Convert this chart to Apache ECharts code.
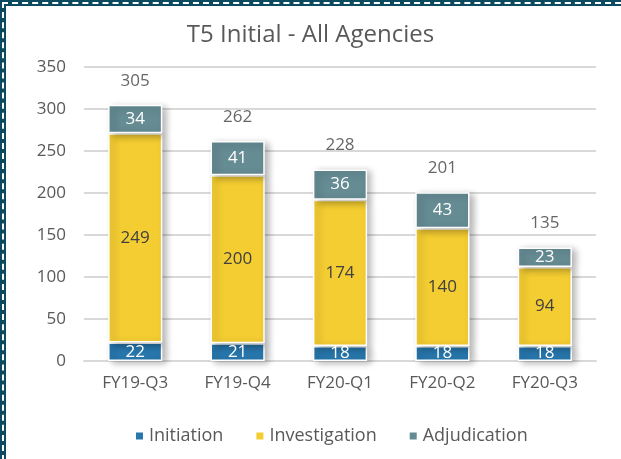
<!DOCTYPE html>
<html>
<head>
<meta charset="utf-8">
<script src="https://cdn.jsdelivr.net/npm/echarts@6/dist/echarts.min.js"></script>
<style>
  html, body { margin: 0; padding: 0; background: #fff; overflow: hidden; width: 621px; height: 459px; }
  #frame {
    position: absolute; left: 0; top: 0; width: 800px; height: 600px;
    box-sizing: border-box;
    border-top: 6px solid #0c4b5f; border-left: 6px solid #0c4b5f;
  }
  #dash {
    position: absolute; left: 2px; top: 2px; width: 800px; height: 600px;
    box-sizing: border-box;
    border-top: 2px dashed #fff; border-left: 2px dashed #fff;
  }
  #main { position: absolute; left: 0; top: 0; width: 621px; height: 459px; }
</style>
</head>
<body>
<div id="frame"></div>
<div id="dash"></div>
<div id="main"></div>
<script>
var quarters = ['FY19-Q3', 'FY19-Q4', 'FY20-Q1', 'FY20-Q2', 'FY20-Q3'];
var initiation = [22, 21, 18, 18, 18];
var investigation = [249, 200, 174, 140, 94];
var adjudication = [34, 41, 36, 43, 23];

var totals = quarters.map(function (q, i) {
  return initiation[i] + investigation[i] + adjudication[i];
});

var font = 'Open Sans';
var txt = '#595959';

// shadow to the right like the excel bars
var barStyle = function (c) {
  return {
    color: c,
    borderColor: '#fff',
    borderWidth: 1.5,
    shadowColor: 'rgba(0,0,0,0.3)',
    shadowBlur: 7,
    shadowOffsetX: 4,
    shadowOffsetY: 2
  };
};

var myChart = echarts.init(document.getElementById('main'));
myChart.setOption({
  animation: false,
  title: {
    text: 'T5 Initial - All Agencies',
    left: 'center',
    top: 18,
    textStyle: { fontFamily: font, fontSize: 24, fontWeight: 'normal', color: txt }
  },
  legend: {
    data: ['Initiation', 'Investigation', 'Adjudication'],
    bottom: 9,
    left: 129,
    icon: 'rect',
    itemWidth: 9,
    itemHeight: 9,
    itemGap: 31,
    textStyle: { fontFamily: font, fontSize: 18, color: txt }
  },
  grid: { left: 84, right: 25, top: 67, bottom: 98 },
  xAxis: {
    type: 'category',
    data: quarters,
    axisTick: { show: false },
    axisLine: { lineStyle: { color: '#d9d9d9', width: 2 } },
    axisLabel: { fontFamily: font, fontSize: 17, color: txt, margin: 14 }
  },
  yAxis: {
    type: 'value',
    min: 0,
    max: 350,
    interval: 50,
    axisLine: { show: false },
    axisTick: { show: false },
    splitLine: { lineStyle: { color: '#d9d9d9', width: 2 } },
    axisLabel: { fontFamily: font, fontSize: 17, color: txt, margin: 18 }
  },
  series: [
    {
      name: 'Initiation',
      type: 'bar',
      stack: 'all',
      barWidth: '53%',
      data: initiation,
      itemStyle: barStyle('#2877ad'),
      label: { show: true, position: 'inside', color: '#fff', fontFamily: font, fontSize: 17 }
    }, {
      name: 'Investigation',
      type: 'bar',
      stack: 'all',
      data: investigation,
      itemStyle: barStyle('#f4cd32'),
      label: { show: true, position: 'inside', color: '#404040', fontFamily: font, fontSize: 17 }
    }, {
      name: 'Adjudication',
      type: 'bar',
      stack: 'all',
      data: adjudication,
      itemStyle: barStyle('#658b93'),
      label: { show: true, position: 'inside', color: '#fff', fontFamily: font, fontSize: 17 }
    }, {
      name: 'Total',
      type: 'scatter',
      data: totals,
      symbolSize: 1,
      itemStyle: { color: 'rgba(0,0,0,0)' },
      label: { show: true, position: 'top', distance: 15, color: '#404040', fontFamily: font, fontSize: 17 },
      z: 5
    }
  ]
});
</script>
</body>
</html>
